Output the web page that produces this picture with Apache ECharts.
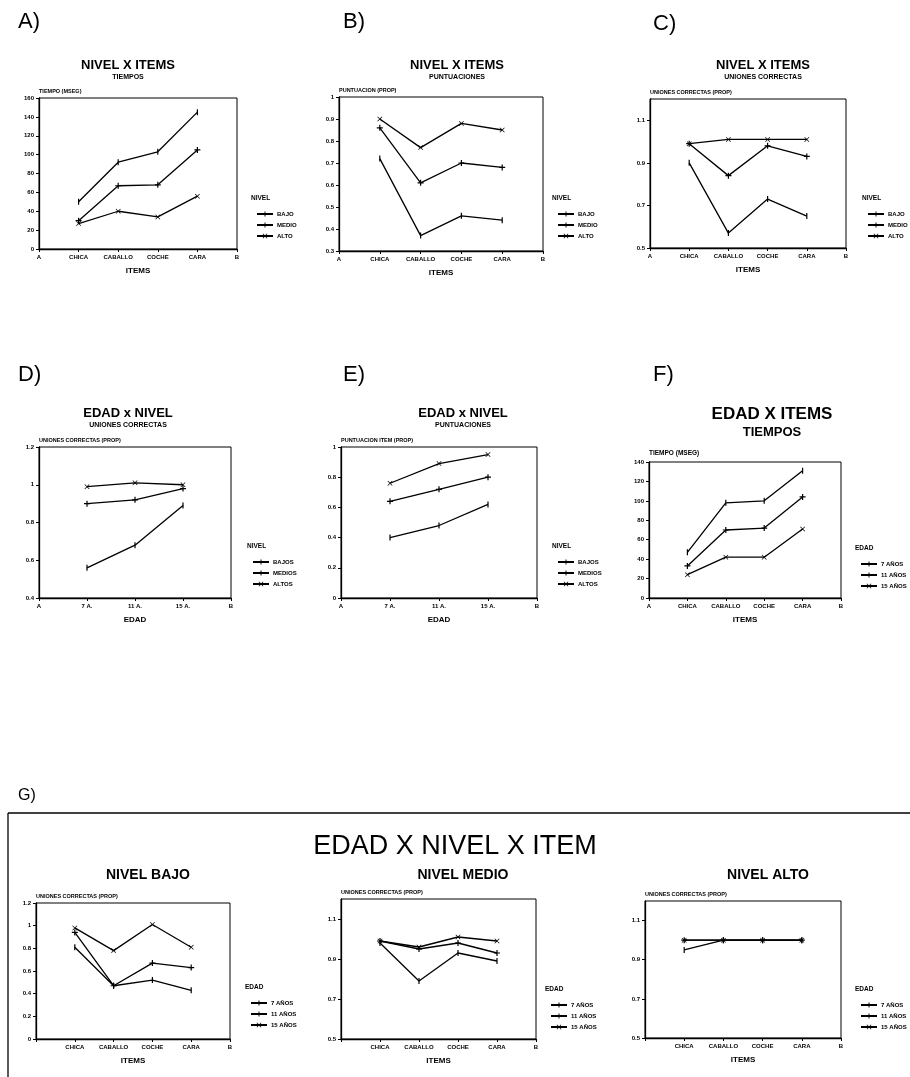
<!DOCTYPE html>
<html>
<head>
<meta charset="utf-8">
<script src="https://cdn.jsdelivr.net/npm/echarts@6/dist/echarts.min.js"></script>
<style>
html,body{margin:0;padding:0;background:#fff;}
#c{width:910px;height:1077px;}
</style>
</head>
<body>
<div id="c"></div>
<script>
// ---- categories ----
const itemCats = ['A', 'CHICA', 'CABALLO', 'COCHE', 'CARA', 'B'];
const itemCatsG = ['', 'CHICA', 'CABALLO', 'COCHE', 'CARA', 'B'];
const edadCats = ['A', '7 A.', '11 A.', '15 A.', 'B'];
const nivelNames = ['BAJO', 'MEDIO', 'ALTO'];
const nivelNamesPl = ['BAJOS', 'MEDIOS', 'ALTOS'];
const edadNames = ['7 AÑOS', '11 AÑOS', '15 AÑOS'];

// ---- A) NIVEL X ITEMS - TIEMPOS ----
const aBajo = [50, 92, 103, 145];
const aMedio = [30, 67, 68, 105];
const aAlto = [27, 40, 34, 56];
// ---- B) NIVEL X ITEMS - PUNTUACIONES ----
const bBajo = [0.72, 0.37, 0.46, 0.44];
const bMedio = [0.86, 0.61, 0.70, 0.68];
const bAlto = [0.90, 0.77, 0.88, 0.85];
// ---- C) NIVEL X ITEMS - UNIONES CORRECTAS ----
const cBajo = [0.90, 0.57, 0.73, 0.65];
const cMedio = [0.99, 0.84, 0.98, 0.93];
const cAlto = [0.99, 1.01, 1.01, 1.01];
// ---- D) EDAD x NIVEL - UNIONES CORRECTAS ----
const dBajo = [0.56, 0.68, 0.89];
const dMedio = [0.90, 0.92, 0.98];
const dAlto = [0.99, 1.01, 1.00];
// ---- E) EDAD x NIVEL - PUNTUACIONES ----
const eBajo = [0.40, 0.48, 0.62];
const eMedio = [0.64, 0.72, 0.80];
const eAlto = [0.76, 0.89, 0.95];
// ---- F) EDAD X ITEMS - TIEMPOS ----
const f7 = [47, 98, 100, 131];
const f11 = [33, 70, 72, 104];
const f15 = [24, 42, 42, 71];
// ---- G) EDAD X NIVEL X ITEM ----
const gBajo7 = [0.81, 0.47, 0.52, 0.43];
const gBajo11 = [0.94, 0.47, 0.67, 0.63];
const gBajo15 = [0.98, 0.78, 1.01, 0.81];
const gMedio7 = [0.98, 0.79, 0.93, 0.89];
const gMedio11 = [0.99, 0.95, 0.98, 0.93];
const gMedio15 = [0.99, 0.96, 1.01, 0.99];
const gAlto7 = [0.95, 1.00, 1.00, 1.00];
const gAlto11 = [1.00, 1.00, 1.00, 1.00];
const gAlto15 = [1.00, 1.00, 1.00, 1.00];

// ---- styling helpers ----
const FONT = '"Liberation Sans", Arial, sans-serif';
const SYM = [
  'path://M0,5L0,5M10,5L10,5M4,0H6V10H4Z',
  'path://M4,0H6V4H10V6H6V10H4V6H0V4H4Z',
  'path://M1,0L5,4L9,0L10,1L6,5L10,9L9,10L5,6L1,10L0,9L4,5L0,1Z'
];
const SYM_SIZE = [6, 6, 5];

const panels = [
  {grid:{left:39, top:98, width:198, height:151}, cats:itemCats, yMin:0, yMax:160, yInt:20,
   yName:'TIEMPO (MSEG)', xName:'ITEMS', names:nivelNames, data:[aBajo, aMedio, aAlto], legend:{left:251, top:206}},
  {grid:{left:339, top:97, width:204, height:154}, cats:itemCats, yMin:0.3, yMax:1, yInt:0.1,
   yName:'PUNTUACION (PROP)', xName:'ITEMS', names:nivelNames, data:[bBajo, bMedio, bAlto], legend:{left:552, top:206}},
  {grid:{left:650, top:99, width:196, height:149}, cats:itemCats, yMin:0.5, yMax:1.2, yInt:0.2, hideMax:true,
   yName:'UNIONES CORRECTAS (PROP)', xName:'ITEMS', names:nivelNames, data:[cBajo, cMedio, cAlto], legend:{left:862, top:206}},
  {grid:{left:39, top:447, width:192, height:151}, cats:edadCats, yMin:0.4, yMax:1.2, yInt:0.2,
   yName:'UNIONES CORRECTAS (PROP)', xName:'EDAD', names:nivelNamesPl, data:[dBajo, dMedio, dAlto], legend:{left:247, top:554}},
  {grid:{left:341, top:447, width:196, height:151}, cats:edadCats, yMin:0, yMax:1, yInt:0.2,
   yName:'PUNTUACION ITEM (PROP)', xName:'EDAD', names:nivelNamesPl, data:[eBajo, eMedio, eAlto], legend:{left:552, top:554}},
  {grid:{left:649, top:462, width:192, height:136}, cats:itemCats, yMin:0, yMax:140, yInt:20,
   yName:'TIEMPO (MSEG)', xName:'ITEMS', names:edadNames, data:[f7, f11, f15], legend:{left:855, top:556}, bigName:true},
  {grid:{left:36, top:903, width:194, height:136}, cats:itemCatsG, yMin:0, yMax:1.2, yInt:0.2,
   yName:'UNIONES CORRECTAS (PROP)', xName:'ITEMS', names:edadNames, data:[gBajo7, gBajo11, gBajo15], legend:{left:245, top:995}},
  {grid:{left:341, top:899, width:195, height:140}, cats:itemCatsG, yMin:0.5, yMax:1.2, yInt:0.2, hideMax:true,
   yName:'UNIONES CORRECTAS (PROP)', xName:'ITEMS', names:edadNames, data:[gMedio7, gMedio11, gMedio15], legend:{left:545, top:997}},
  {grid:{left:645, top:901, width:196, height:137}, cats:itemCatsG, yMin:0.5, yMax:1.2, yInt:0.2, hideMax:true,
   yName:'UNIONES CORRECTAS (PROP)', xName:'ITEMS', names:edadNames, data:[gAlto7, gAlto11, gAlto15], legend:{left:855, top:997}}
];

const grids = [], xAxes = [], yAxes = [], series = [], legends = [];
panels.forEach((p, i) => {
  grids.push(Object.assign({show:true, borderColor:'#000', borderWidth:1, backgroundColor:'transparent'}, p.grid));
  xAxes.push({
    gridIndex:i, type:'category', data:p.cats, boundaryGap:false,
    name:p.xName, nameLocation:'middle', nameGap:18,
    nameTextStyle:{fontFamily:FONT, fontSize:8, fontWeight:'bold', color:'#000'},
    axisLine:{show:true, lineStyle:{color:'#000', width:1.3}},
    axisTick:{show:true, length:3, lineStyle:{color:'#000', width:1}},
    axisLabel:{interval:0, fontFamily:FONT, fontSize:6, fontWeight:'bold', color:'#000', margin:5},
    splitLine:{show:false}
  });
  yAxes.push({
    gridIndex:i, type:'value', min:p.yMin, max:p.yMax, interval:p.yInt,
    name:p.yName, nameLocation:'end', nameGap:p.bigName ? 5 : 4,
    nameTextStyle:{fontFamily:FONT, fontSize:p.bigName ? 6.5 : 5.5, fontWeight:'bold', color:'#000', align:'left'},
    axisLine:{show:true, lineStyle:{color:'#000', width:1.3}},
    axisTick:{show:true, length:3, lineStyle:{color:'#000', width:1}},
    axisLabel:{fontFamily:FONT, fontSize:6, fontWeight:'bold', color:'#000', margin:5, showMaxLabel:!p.hideMax},
    splitLine:{show:false}
  });
  p.names.forEach((nm, k) => {
    const pad = [null].concat(p.data[k]).concat([null]);
    series.push({
      type:'line', name:nm, xAxisIndex:i, yAxisIndex:i, data:pad,
      symbol:SYM[k], symbolSize:SYM_SIZE[k], showSymbol:true, connectNulls:false,
      lineStyle:{color:'#000', width:1.3}, itemStyle:{color:'#000'},
      emphasis:{disabled:true}, animation:false, z:3
    });
  });
  legends.push({
    orient:'vertical', left:p.legend.left, top:p.legend.top, data:p.names,
    itemWidth:16, itemHeight:6, itemGap:5, selectedMode:false,
    textStyle:{fontFamily:FONT, fontSize:6, fontWeight:'bold', color:'#000', padding:[0,0,0,-1]}
  });
});

function txt(x, y, text, size, weight, align) {
  return {type:'text', x:x, y:y, silent:true,
    style:{text:text, font:(weight || 'normal') + ' ' + size + 'px ' + FONT,
      fill:'#000', align:align || 'left', verticalAlign:'middle',
      textAlign:align || 'left', textVerticalAlign:'middle'}};
}

const graphics = [
  txt(18, 22, 'A)', 22, 'normal'), txt(343, 22, 'B)', 22, 'normal'), txt(653, 24, 'C)', 22, 'normal'),
  txt(18, 375, 'D)', 22, 'normal'), txt(343, 375, 'E)', 22, 'normal'), txt(653, 375, 'F)', 22, 'normal'),
  txt(18, 796, 'G)', 16, 'normal'),
  txt(128, 65, 'NIVEL X ITEMS', 13, 'bold', 'center'), txt(128, 77, 'TIEMPOS', 7, 'bold', 'center'),
  txt(457, 65, 'NIVEL X ITEMS', 13, 'bold', 'center'), txt(457, 77, 'PUNTUACIONES', 7, 'bold', 'center'),
  txt(763, 65, 'NIVEL X ITEMS', 13, 'bold', 'center'), txt(763, 77, 'UNIONES CORRECTAS', 7, 'bold', 'center'),
  txt(128, 413, 'EDAD x NIVEL', 13, 'bold', 'center'), txt(128, 425, 'UNIONES CORRECTAS', 7, 'bold', 'center'),
  txt(463, 413, 'EDAD x NIVEL', 13, 'bold', 'center'), txt(463, 425, 'PUNTUACIONES', 7, 'bold', 'center'),
  txt(772, 414, 'EDAD X ITEMS', 17, 'bold', 'center'), txt(772, 432, 'TIEMPOS', 13, 'bold', 'center'),
  txt(251, 198, 'NIVEL', 6.5, 'bold'), txt(552, 198, 'NIVEL', 6.5, 'bold'), txt(862, 198, 'NIVEL', 6.5, 'bold'),
  txt(247, 546, 'NIVEL', 6.5, 'bold'), txt(552, 546, 'NIVEL', 6.5, 'bold'), txt(855, 548, 'EDAD', 6.5, 'bold'),
  txt(245, 987, 'EDAD', 6.5, 'bold'), txt(545, 989, 'EDAD', 6.5, 'bold'), txt(855, 989, 'EDAD', 6.5, 'bold'),
  txt(455, 847, 'EDAD X NIVEL X ITEM', 27, 'normal', 'center'),
  txt(148, 875, 'NIVEL BAJO', 14, 'bold', 'center'),
  txt(463, 875, 'NIVEL MEDIO', 14, 'bold', 'center'),
  txt(768, 875, 'NIVEL ALTO', 14, 'bold', 'center'),
  {type:'line', silent:true, shape:{x1:8, y1:813, x2:910, y2:813}, style:{stroke:'#000', lineWidth:1.3}},
  {type:'line', silent:true, shape:{x1:8, y1:813, x2:8, y2:1077}, style:{stroke:'#000', lineWidth:1.3}}
];

const chart = echarts.init(document.getElementById('c'), null, {renderer:'canvas'});
chart.setOption({
  backgroundColor:'#fff',
  animation:false,
  grid:grids, xAxis:xAxes, yAxis:yAxes, series:series, legend:legends,
  graphic:graphics
});
</script>
</body>
</html>
